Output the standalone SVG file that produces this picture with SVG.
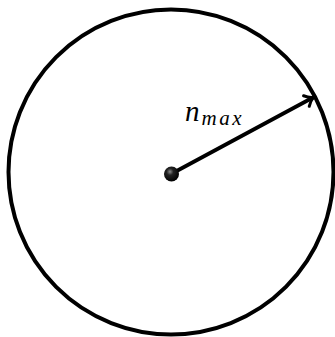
<svg xmlns="http://www.w3.org/2000/svg" width="335" height="337" viewBox="0 0 335 337">
<style>
.ring{fill:none;stroke:#000;stroke-width:4}
.conn{fill:none;stroke:#000;stroke-width:3.8;stroke-linecap:round}
.head{fill:none;stroke:#000;stroke-width:3;stroke-linecap:round;stroke-linejoin:round}
.lbl{font-family:"Liberation Serif","DejaVu Serif",serif;font-style:italic;fill:#000}
</style>
<defs>
<radialGradient id="ball" cx="0.4" cy="0.35" r="0.65">
<stop offset="0" stop-color="#8a8a8a"/>
<stop offset="0.35" stop-color="#222"/>
<stop offset="1" stop-color="#000"/>
</radialGradient>
<marker id="arr" markerWidth="14" markerHeight="16" refX="10" refY="8" orient="auto" markerUnits="userSpaceOnUse">
<path class="head" d="M2.5,2 Q6.5,6.5 10.5,8 Q6.5,9.5 2.5,14"/>
</marker>
</defs>
<g id="circle"><circle class="ring" cx="171" cy="172" r="162.5"/></g>
<g id="connectors">
<line class="conn" x1="172" y1="173.5" x2="313" y2="97.5" marker-end="url(#arr)"/>
</g>
<g id="center"><circle cx="171.5" cy="174" r="7.5" fill="url(#ball)"/></g>
<g id="label"><text class="lbl" x="185" y="121" font-size="29" letter-spacing="2">n<tspan font-size="21" dy="4" letter-spacing="2.5">max</tspan></text></g>
</svg>
